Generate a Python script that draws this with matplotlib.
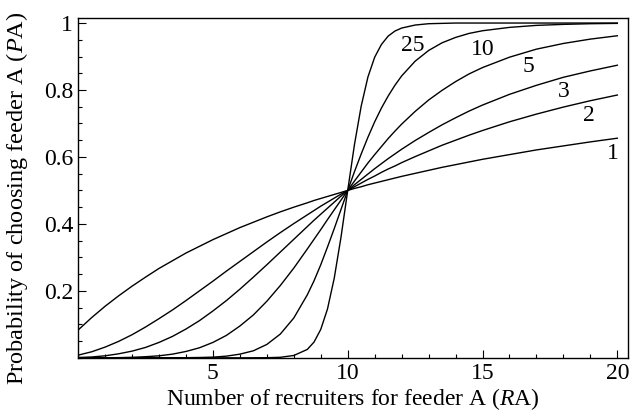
import matplotlib
matplotlib.use("Agg")
import matplotlib.pyplot as plt
from matplotlib.ticker import MultipleLocator, FixedLocator

plt.rcParams['font.family'] = ['Liberation Serif', 'DejaVu Serif']
plt.rcParams['mathtext.fontset'] = 'custom'
plt.rcParams['mathtext.rm'] = 'Liberation Serif'
plt.rcParams['mathtext.it'] = 'Liberation Serif:italic'

# number of recruiters for feeder A
r_a = [0, 0.5, 1, 1.5, 2, 2.5, 3, 3.5, 4, 4.5, 5, 5.5, 6, 6.5,
       7, 7.5, 8, 8.5,
       8.75, 9, 9.25, 9.5, 9.75,
       10, 10.25, 10.5, 10.75,
       11, 11.25, 11.5, 11.75,
       12, 12.5, 13, 13.5, 14, 14.5,
       15, 16, 17, 18, 19, 20]

# probability of choosing feeder A, one list per exponent
p_1 = [0.083, 0.120, 0.154, 0.185, 0.214, 0.241, 0.267, 0.290, 0.313, 0.333, 0.353, 0.371, 0.389, 0.405,
       0.421, 0.436, 0.450, 0.463,
       0.470, 0.476, 0.482, 0.488, 0.494,
       0.500, 0.506, 0.511, 0.517,
       0.522, 0.527, 0.532, 0.537,
       0.542, 0.551, 0.560, 0.569, 0.577, 0.585,
       0.593, 0.607, 0.621, 0.633, 0.645, 0.656]
p_2 = [0.008, 0.018, 0.032, 0.049, 0.069, 0.092, 0.117, 0.143, 0.171, 0.200, 0.229, 0.259, 0.288, 0.317,
       0.346, 0.374, 0.401, 0.427,
       0.440, 0.453, 0.465, 0.477, 0.489,
       0.500, 0.511, 0.522, 0.533,
       0.543, 0.554, 0.564, 0.573,
       0.583, 0.601, 0.618, 0.635, 0.650, 0.665,
       0.679, 0.705, 0.728, 0.749, 0.768, 0.785]
p_3 = [0.001, 0.0025, 0.006, 0.012, 0.020, 0.031, 0.046, 0.064, 0.086, 0.111, 0.140, 0.171, 0.205, 0.241,
       0.278, 0.316, 0.354, 0.392,
       0.411, 0.429, 0.447, 0.465, 0.483,
       0.500, 0.517, 0.533, 0.549,
       0.565, 0.580, 0.595, 0.609,
       0.623, 0.649, 0.673, 0.696, 0.717, 0.737,
       0.755, 0.787, 0.814, 0.838, 0.857, 0.874]
p_5 = [0.000, 0.0001, 0.0002, 0.0006, 0.0015, 0.0033, 0.006, 0.011, 0.019, 0.030, 0.046, 0.067, 0.095, 0.128,
       0.169, 0.216, 0.268, 0.325,
       0.354, 0.383, 0.413, 0.442, 0.471,
       0.500, 0.528, 0.555, 0.582,
       0.607, 0.631, 0.655, 0.677,
       0.698, 0.736, 0.770, 0.799, 0.825, 0.848,
       0.867, 0.898, 0.922, 0.939, 0.952, 0.962]
p_10 = [0.000, 0.000, 0.000, 0.000, 0.000, 0.000, 0.000, 0.000, 0.0004, 0.001, 0.002, 0.005, 0.011, 0.021,
        0.040, 0.071, 0.119, 0.188,
        0.230, 0.278, 0.331, 0.386, 0.443,
        0.500, 0.556, 0.609, 0.659,
        0.705, 0.746, 0.782, 0.814,
        0.842, 0.886, 0.918, 0.941, 0.957, 0.969,
        0.977, 0.987, 0.993, 0.996, 0.998, 0.999]
p_25 = [0.000, 0.000, 0.000, 0.000, 0.000, 0.000, 0.000, 0.000, 0.000, 0.000, 0.000, 0.000, 0.000, 0.0001,
        0.0004, 0.0016, 0.007, 0.025,
        0.047, 0.085, 0.146, 0.238, 0.360,
        0.500, 0.637, 0.752, 0.839,
        0.898, 0.936, 0.961, 0.976,
        0.985, 0.994, 0.998, 0.999, 1.000, 1.000,
        1.000, 1.000, 1.000, 1.000, 1.000, 1.000]

curves = [p_1, p_2, p_3, p_5, p_10, p_25]
curve_labels = ['1', '2', '3', '5', '10', '25']
label_x = [19.85, 18.95, 18.0, 16.7, 15.0, 12.4]
label_y = [0.61, 0.725, 0.795, 0.87, 0.92, 0.934]

fig = plt.figure(figsize=(6.3, 4.19), dpi=100)
ax = fig.add_axes([0.124, 0.146, 0.873, 0.811])

for p in curves:
    ax.plot(r_a, p, color='black', lw=1.0)

for lab, lx, ly in zip(curve_labels, label_x, label_y):
    ax.text(lx, ly, lab, fontsize=17, ha='center', va='center')

ax.set_xlim(0, 20.4)
ax.set_ylim(0, 1.015)
ax.xaxis.set_major_locator(FixedLocator([5, 10, 15, 20]))
ax.xaxis.set_minor_locator(MultipleLocator(1))
ax.yaxis.set_major_locator(FixedLocator([0.2, 0.4, 0.6, 0.8, 1.0]))
ax.yaxis.set_minor_locator(MultipleLocator(0.05))
ax.set_yticklabels(['0.2', '0.4', '0.6', '0.8', '1'])
ax.tick_params(which='both', direction='in', top=False, right=False, labelsize=17)
ax.tick_params(which='major', length=5.5, width=0.8)
ax.tick_params(which='minor', length=3, width=0.8)
for s in ax.spines.values():
    s.set_linewidth(1.0)

ax.set_xlabel(r'Number of recruiters for feeder A ($\mathit{R}$A)', fontsize=17, labelpad=2)
ax.set_ylabel(r'Probability of choosing feeder A ($\mathit{P}$A)', fontsize=17.5)
ax.yaxis.set_label_coords(-0.087, 0.468)

fig.savefig('out.png', dpi=100)
